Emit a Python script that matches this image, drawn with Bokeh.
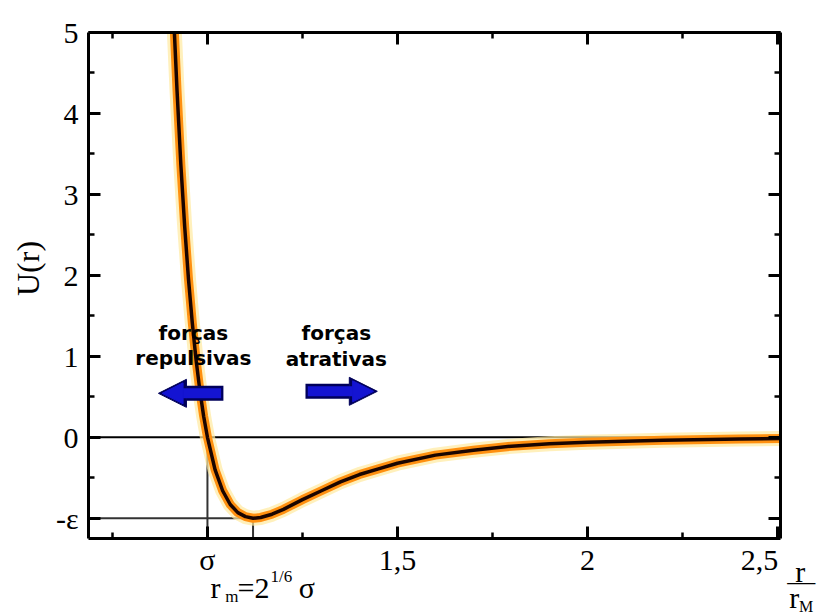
import math
from bokeh.plotting import figure
from bokeh.models import FixedTicker, LinearAxis, Range1d, Label, Arrow, NormalHead
from bokeh.embed import file_html
from bokeh.resources import INLINE

# ---- data ----
r_over_sigma = [0.913, 0.92, 0.93, 0.94, 0.95, 0.96, 0.97, 0.98, 0.99, 1.00,
                1.02, 1.04, 1.06, 1.08, 1.10, 1.12, 1.14, 1.17, 1.20, 1.25,
                1.30, 1.35, 1.40, 1.45, 1.50, 1.60, 1.70, 1.80, 1.90, 2.00,
                2.20, 2.40, 2.51]
potential = [5.00, 4.28, 3.37, 2.61, 1.96, 1.42, 0.96, 0.58, 0.26, 0.00,
             -0.40, -0.66, -0.83, -0.93, -0.98, -1.00, -0.99, -0.95, -0.89, -0.77,
             -0.66, -0.55, -0.46, -0.39, -0.32, -0.22, -0.16, -0.11, -0.08, -0.06,
             -0.035, -0.02, -0.016]
sigma = 1.0
r_min = 1.12
eps = 1.0

x_ticks = [1.0, 1.5, 2.0, 2.5]
x_tick_labels = ["σ", "1,5", "2", "2,5"]
x_minor = [0.75, 1.25, 1.75, 2.25]
y_ticks = [-1, 0, 1, 2, 3, 4, 5]
y_tick_labels = ["-ε", "0", "1", "2", "3", "4", "5"]
y_minor = [-0.5, 0.5, 1.5, 2.5, 3.5, 4.5]

# plotted box
X0, X1 = 0.687, 2.508
Y0, Y1 = -1.25, 5.0
# whole canvas (the box sits inside it, leaving room for outer texts)
CX0, CX1 = 0.4554, 2.6186
CY0, CY1 = -2.1887, 5.3953

SERIF = "Liberation Serif"

p = figure(width=822, height=614, output_backend="svg", toolbar_location=None,
           x_range=Range1d(CX0, CX1), y_range=Range1d(CY0, CY1),
           min_border=0, min_border_left=0, min_border_right=0,
           min_border_top=0, min_border_bottom=0)
p.xgrid.visible = False
p.ygrid.visible = False
p.outline_line_color = None
p.background_fill_color = "white"
p.border_fill_color = "white"


def style_axis(ax, ticker, overrides, show_labels, loc, bounds):
    ax.ticker = ticker
    ax.fixed_location = loc
    ax.bounds = bounds
    ax.axis_line_width = 3
    ax.axis_line_color = "black"
    ax.major_tick_in = 12
    ax.major_tick_out = 0
    ax.minor_tick_in = 6
    ax.minor_tick_out = 0
    ax.major_tick_line_width = 3
    ax.minor_tick_line_width = 2.5
    ax.major_label_text_font = SERIF
    if show_labels:
        ax.major_label_overrides = overrides
        ax.major_label_text_color = "black"
        ax.major_label_text_font_size = "30px"
    else:
        ax.major_label_text_color = None
        ax.major_label_text_font_size = "10px"
        ax.major_label_standoff = 0


xover = {k: v for k, v in zip(x_ticks, x_tick_labels)}
# the last label sits a little left of its tick, clear of the corner
xover[x_ticks[-1]] = x_tick_labels[-1] + "\u2003\u2009"
yover = {k: v for k, v in zip(y_ticks, y_tick_labels)}

style_axis(p.xaxis[0], FixedTicker(ticks=x_ticks, minor_ticks=x_minor), xover, True, Y0, (X0, X1))
p.xaxis[0].major_label_standoff = 4
style_axis(p.yaxis[0], FixedTicker(ticks=y_ticks, minor_ticks=y_minor), yover, True, X0, (Y0, Y1))
p.yaxis[0].major_label_standoff = 10

top = LinearAxis()
style_axis(top, FixedTicker(ticks=x_ticks, minor_ticks=x_minor), xover, False, Y1, (X0, X1))
p.add_layout(top, "above")
right = LinearAxis()
style_axis(right, FixedTicker(ticks=y_ticks, minor_ticks=y_minor), yover, False, X1, (Y0, Y1))
p.add_layout(right, "right")

# y axis title
p.add_layout(Label(x=0.529, y=2.085, text="U(r)", angle=math.pi / 2,
                   text_align="center", text_baseline="middle",
                   text_font=SERIF, text_font_size="32px", text_color="black"))

# reference lines: U = 0, r = sigma, r = r_min, U = -eps
p.segment(x0=[X0], y0=[0], x1=[X1], y1=[0], line_color="black", line_width=2)
p.segment(x0=[sigma, r_min, X0], y0=[0, -eps, -eps], x1=[sigma, r_min, r_min], y1=[Y0, Y0, -eps],
          line_color="#333333", line_width=2)

# curve with glow
p.line(r_over_sigma, potential, line_color="#ffe9a0", line_width=15, line_alpha=0.7, line_join="round")
p.line(r_over_sigma, potential, line_color="#ff9010", line_width=9, line_join="round")
p.line(r_over_sigma, potential, line_color="#1a0500", line_width=3.5, line_join="round")

# arrows
for xs, xe, yy in [(1.042, 0.871, 0.543), (1.258, 1.447, 0.568)]:
    p.add_layout(Arrow(x_start=xs, y_start=yy, x_end=xe, y_end=yy,
                       line_color="#00005a", line_width=15, line_cap="butt",
                       end=NormalHead(size=28, fill_color="#00005a", line_color="#00005a", line_width=1)))
    d = 0.006 if xe > xs else -0.006
    p.add_layout(Arrow(x_start=xs + d, y_start=yy, x_end=xe - 1.6 * d, y_end=yy,
                       line_color="#1414d2", line_width=10, line_cap="butt",
                       end=NormalHead(size=21, fill_color="#1414d2", line_color="#1414d2", line_width=1)))

# arrow texts
for txt, x, y in [("forças", 0.963, 1.284), ("repulsivas", 0.963, 0.975),
                  ("forças", 1.339, 1.284), ("atrativas", 1.339, 0.963)]:
    p.add_layout(Label(x=x, y=y, text=txt, text_align="center", text_baseline="middle",
                       text_font="DejaVu Sans", text_font_style="bold", text_font_size="20px",
                       text_color="black"))

# r_m = 2^(1/6) sigma
for txt, x, y, size in [("r", 1.008, -1.854, "30px"), ("m", 1.047, -1.970, "17px"),
                        ("=2", 1.079, -1.854, "30px"), ("1/6", 1.166, -1.723, "17px"),
                        ("σ", 1.240, -1.854, "30px")]:
    p.add_layout(Label(x=x, y=y, text=txt, text_align="left", text_baseline="middle",
                       text_font=SERIF, text_font_size=size, text_color="black"))

# r / r_M fraction at the right
for txt, x, y, size, align in [("r", 2.560, -1.655, "30px", "center"),
                               ("—", 2.563, -1.772, "28px", "center"),
                               ("r", 2.531, -1.977, "30px", "left"),
                               ("M", 2.557, -2.094, "16px", "left")]:
    p.add_layout(Label(x=x, y=y, text=txt, text_align=align, text_baseline="middle",
                       text_font=SERIF, text_font_size=size, text_color="black"))

open("out.html", "w").write(file_html(p, INLINE))
